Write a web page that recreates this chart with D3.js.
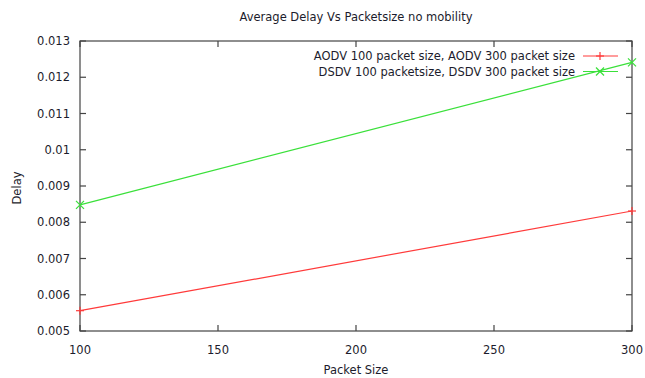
<!DOCTYPE html>
<html>
<head>
<meta charset="utf-8">
<script src="https://cdn.jsdelivr.net/npm/d3@7"></script>
<style>
  html, body { margin: 0; padding: 0; background: #fff; }
  svg text { font-family: "DejaVu Sans", Verdana, sans-serif; fill: #1c1c2c; }
</style>
</head>
<body>
<svg id="chart" width="645" height="378"></svg>
<script>
// Packet sizes on the x axis
const packetSizes = [100, 300];
// Average delay per protocol
const aodvDelay = [0.00556, 0.00831];
const dsdvDelay = [0.00848, 0.01241];
// Axis ticks
const xTicks = [100, 150, 200, 250, 300];
const yTicks = [0.005, 0.006, 0.007, 0.008, 0.009, 0.01, 0.011, 0.012, 0.013];
const yTickLabels = ["0.005", "0.006", "0.007", "0.008", "0.009", "0.01", "0.011", "0.012", "0.013"];

const seriesNames = ["AODV 100 packet size, AODV 300 packet size", "DSDV 100 packetsize, DSDV 300 packet size"];
const seriesColors = ["#ff3a3a", "#3ae03a"];
const seriesMarkers = ["plus", "cross"];

const svg = d3.select("#chart");
const m = { left: 80, right: 632, top: 41, bottom: 331 };
const fs = 11.5;

const x = d3.scaleLinear().domain([100, 300]).range([m.left, m.right]);
const y = d3.scaleLinear().domain([0.005, 0.013]).range([m.bottom, m.top]);

const axisColor = "#444";
const tickLen = 6;

// Frame
svg.append("rect")
  .attr("x", m.left).attr("y", m.top)
  .attr("width", m.right - m.left).attr("height", m.bottom - m.top)
  .attr("fill", "none").attr("stroke", axisColor).attr("stroke-width", 1.2);

// Inward ticks, mirrored on the opposite side
const g = svg.append("g").attr("stroke", axisColor).attr("stroke-width", 1.2);
xTicks.forEach(t => {
  g.append("line").attr("x1", x(t)).attr("x2", x(t)).attr("y1", m.bottom).attr("y2", m.bottom - tickLen);
  g.append("line").attr("x1", x(t)).attr("x2", x(t)).attr("y1", m.top).attr("y2", m.top + tickLen);
});
yTicks.forEach(t => {
  g.append("line").attr("x1", m.left).attr("x2", m.left + tickLen).attr("y1", y(t)).attr("y2", y(t));
  g.append("line").attr("x1", m.right).attr("x2", m.right - tickLen).attr("y1", y(t)).attr("y2", y(t));
});

// Tick labels
svg.append("g").selectAll("text").data(xTicks).join("text")
  .attr("x", d => x(d)).attr("y", m.bottom + 23)
  .attr("text-anchor", "middle").attr("font-size", fs).text(d => d);
svg.append("g").selectAll("text").data(yTicks).join("text")
  .attr("x", m.left - 10).attr("y", d => y(d) + 4)
  .attr("text-anchor", "end").attr("font-size", fs).text((d, i) => yTickLabels[i]);

// Title and axis labels
svg.append("text").attr("x", 356).attr("y", 21).attr("text-anchor", "middle")
  .attr("font-size", fs).text("Average Delay Vs Packetsize no mobility");
svg.append("text").attr("x", 356).attr("y", 374).attr("text-anchor", "middle")
  .attr("font-size", fs).text("Packet Size");
svg.append("text").attr("transform", "translate(21,188) rotate(-90)").attr("text-anchor", "middle")
  .attr("font-size", fs).text("Delay");

function marker(sel, type, cx, cy, color) {
  const s = 4;
  if (type === "plus") {
    sel.append("line").attr("x1", cx - s).attr("x2", cx + s).attr("y1", cy).attr("y2", cy).attr("stroke", color);
    sel.append("line").attr("x1", cx).attr("x2", cx).attr("y1", cy - s).attr("y2", cy + s).attr("stroke", color);
  } else {
    sel.append("line").attr("x1", cx - s).attr("x2", cx + s).attr("y1", cy - s).attr("y2", cy + s).attr("stroke", color);
    sel.append("line").attr("x1", cx - s).attr("x2", cx + s).attr("y1", cy + s).attr("y2", cy - s).attr("stroke", color);
  }
}

// Series lines and point markers
[aodvDelay, dsdvDelay].forEach((vals, si) => {
  const pts = packetSizes.map((p, i) => [x(p), y(vals[i])]);
  svg.append("path").attr("d", d3.line()(pts)).attr("fill", "none")
    .attr("stroke", seriesColors[si]).attr("stroke-width", 1.2);
  const mg = svg.append("g").attr("stroke-width", 1.2);
  pts.forEach(p => marker(mg, seriesMarkers[si], p[0], p[1], seriesColors[si]));
});

// Legend
seriesNames.forEach((name, i) => {
  const ly = 56 + i * 15.5;
  svg.append("text").attr("x", 575).attr("y", ly + 4).attr("text-anchor", "end")
    .attr("font-size", fs).text(name);
  svg.append("line").attr("x1", 583).attr("x2", 618).attr("y1", ly).attr("y2", ly)
    .attr("stroke", seriesColors[i]).attr("stroke-width", 1.2);
  const lg = svg.append("g").attr("stroke-width", 1.2);
  marker(lg, seriesMarkers[i], 600, ly, seriesColors[i]);
});
</script>
</body>
</html>
